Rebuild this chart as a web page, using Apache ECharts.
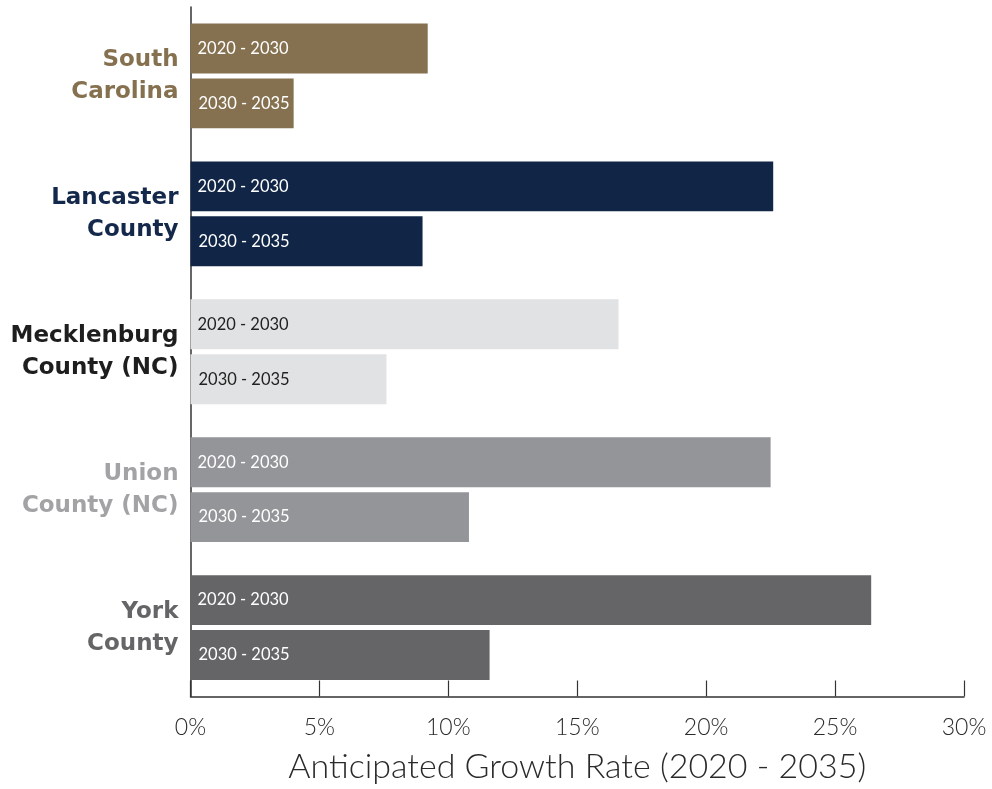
<!DOCTYPE html>
<html><head><meta charset="utf-8">
<script src="https://cdn.jsdelivr.net/npm/echarts@6/dist/echarts.min.js"></script>
<style>html,body{margin:0;padding:0;background:#fff}#c{width:992px;height:789px}</style>
</head><body><div id="c"></div>
<script>
const categories = ['South\nCarolina', 'Lancaster\nCounty', 'Mecklenburg\nCounty (NC)', 'Union\nCounty (NC)', 'York\nCounty'];
const seriesNames = ['2020 - 2030', '2030 - 2035'];
const values2020_2030 = [9.2, 22.6, 16.6, 22.5, 26.4];
const values2030_2035 = [4.0, 9.0, 7.6, 10.8, 11.6];
const xTicks = [0, 5, 10, 15, 20, 25, 30];

const barColors = ['#85714f', '#112647', '#e1e2e4', '#939598', '#656567'];
const labelColors = ['#85714f', '#13284a', '#1e1e1e', '#a3a3a5', '#656567'];
const innerTextColors = ['#fff', '#fff', '#222', '#fff', '#fff'];
const font = 'Lato, "DejaVu Sans", sans-serif';

function mk(vals) {
  return vals.map((v, i) => ({
    value: v,
    itemStyle: { color: barColors[i] },
    label: { color: innerTextColors[i] }
  }));
}

const chart = echarts.init(document.getElementById('c'), null, { renderer: 'canvas' });
chart.setOption({
  animation: false,
  grid: { left: 190.5, right: 28, top: 7, bottom: 92.5, containLabel: false, outerBoundsMode: 'none' },
  xAxis: {
    type: 'value', min: 0, max: 30, interval: 5,
    axisLine: { show: true, lineStyle: { color: '#333', width: 1.5 } },
    axisTick: { show: true, inside: true, length: 16, lineStyle: { color: '#333', width: 1.2 } },
    splitLine: { show: false },
    axisLabel: { formatter: v => xTicks.includes(v) ? v + '%' : '', fontSize: 23, color: '#2a2a2a', margin: 20, fontFamily: font, fontWeight: 300 },
    name: 'Anticipated Growth Rate (2020 - 2035)', nameLocation: 'middle', nameGap: 54,
    nameTextStyle: { fontSize: 34, color: '#2a2a2a', fontFamily: font, fontWeight: 300 }
  },
  yAxis: {
    type: 'category', data: categories, inverse: true,
    axisLine: { show: true, lineStyle: { color: '#333', width: 1.5 } },
    axisTick: { show: false },
    axisLabel: {
      margin: 12, fontSize: 23, fontWeight: 'bold', fontFamily: '"DejaVu Sans", sans-serif', lineHeight: 32, align: 'right',
      color: (v, i) => labelColors[i]
    }
  },
  series: [
    { name: seriesNames[0], type: 'bar', data: mk(values2020_2030), barGap: '10%', barCategoryGap: '24%',
      label: { show: true, position: 'insideLeft', formatter: '{a}', fontSize: 16.5, fontFamily: font, fontWeight: 'normal', distance: 7 } },
    { name: seriesNames[1], type: 'bar', data: mk(values2030_2035), barGap: '10%', barCategoryGap: '24%',
      label: { show: true, position: 'insideLeft', formatter: '{a}', fontSize: 16.5, fontFamily: font, fontWeight: 'normal', distance: 8 } }
  ]
});
</script></body></html>
